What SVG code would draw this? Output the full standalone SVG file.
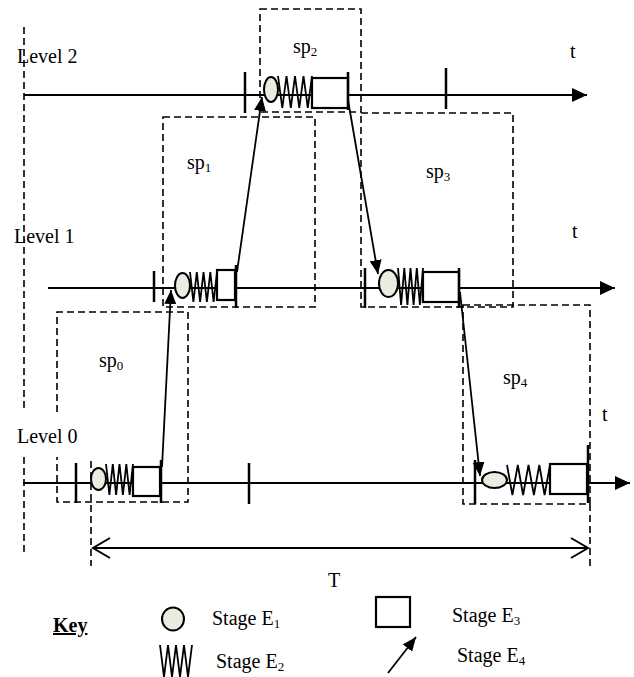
<svg xmlns="http://www.w3.org/2000/svg" width="634" height="677" viewBox="0 0 634 677">
<style>
text{font-family:"Liberation Serif","Times New Roman",serif;font-size:20px;fill:#000}
.sub{font-size:13px}
.dash{fill:none;stroke:#000;stroke-width:1.6;stroke-dasharray:7,4}
.axis{fill:none;stroke:#000;stroke-width:2}
.tick{stroke:#000;stroke-width:2.5}
.e1{fill:#ECEBE1;stroke:#000;stroke-width:2}
.e2{fill:none;stroke:#000;stroke-width:1.8;stroke-linejoin:miter}
.e3{fill:#fff;stroke:#000;stroke-width:2.2}
.e4{fill:none;stroke:#000;stroke-width:1.8}
</style>
<defs>
<marker id="ah" markerUnits="userSpaceOnUse" markerWidth="16" markerHeight="14" refX="15" refY="7" orient="auto"><path d="M0,0 L15,7 L0,14 z" fill="#000"/></marker>
<marker id="sh" markerUnits="userSpaceOnUse" markerWidth="14" markerHeight="12" refX="14" refY="6" orient="auto"><path d="M0,0 L14,6 L0,12 z" fill="#000"/></marker>
<marker id="open" markerUnits="userSpaceOnUse" markerWidth="20" markerHeight="22" refX="18" refY="11" orient="auto-start-reverse"><path d="M1,1 L18,11 L1,21" fill="none" stroke="#000" stroke-width="2"/></marker>
</defs>

<g id="frame">
<line class="dash" x1="24" y1="27" x2="24" y2="412"/>
<line class="dash" x1="24" y1="457" x2="24" y2="552"/>
<line class="dash" x1="91" y1="461" x2="91" y2="566"/>
<line class="dash" x1="590" y1="504" x2="590" y2="566"/>
</g>

<g id="sp0"><path class="dash" d="M57,412 V312 H188 V502 H57 V457"/><text x="99" y="367">sp<tspan class="sub" dy="3">0</tspan></text></g>
<g id="sp1"><rect class="dash" x="163" y="117" width="152" height="190"/><text x="187" y="169">sp<tspan class="sub" dy="3">1</tspan></text></g>
<g id="sp2"><rect class="dash" x="260" y="9" width="101" height="103"/><text x="293" y="53">sp<tspan class="sub" dy="3">2</tspan></text></g>
<g id="sp3"><rect class="dash" x="361" y="113" width="152" height="194"/><text x="426" y="178">sp<tspan class="sub" dy="3">3</tspan></text></g>
<g id="sp4"><rect class="dash" x="463" y="305" width="127" height="199"/><text x="503" y="384">sp<tspan class="sub" dy="3">4</tspan></text></g>

<g id="level2">
<text x="17" y="63">Level 2</text>
<text x="570" y="58">t</text>
<line class="axis" x1="24" y1="95" x2="587" y2="95" marker-end="url(#ah)"/>
<line class="tick" x1="245" y1="72" x2="245" y2="113"/>
<line class="tick" x1="446" y1="68" x2="446" y2="109"/>
</g>
<g id="level1">
<text x="14" y="243">Level 1</text>
<text x="572" y="238">t</text>
<line class="axis" x1="48" y1="288" x2="615" y2="288" marker-end="url(#ah)"/>
<line class="tick" x1="154" y1="271" x2="154" y2="302"/>
<line class="tick" x1="365" y1="268" x2="365" y2="308"/>
</g>
<g id="level0">
<rect x="15" y="413" width="67" height="43" fill="#fff"/>
<text x="17" y="443">Level 0</text>
<text x="602" y="421">t</text>
<line class="axis" x1="23" y1="483" x2="630" y2="483" marker-end="url(#ah)"/>
<line class="tick" x1="76" y1="463" x2="76" y2="503"/>
<line class="tick" x1="249" y1="463" x2="249" y2="504"/>
<line class="tick" x1="475" y1="460" x2="475" y2="504"/>
</g>

<g id="stage-l2">
<ellipse class="e1" cx="271" cy="89.5" rx="7" ry="12.5"/>
<path class="e2" d="M278,76 L282.3,108 L286.5,76 L290.8,108 L295,76 L299.3,108 L303.5,76 L307.8,108 L312,76"/>
<rect class="e3" x="312" y="78" width="36" height="30"/>
<line class="tick" x1="348" y1="72" x2="348" y2="110"/>
</g>
<g id="stage-l1a">
<ellipse class="e1" cx="182.5" cy="285.5" rx="7.5" ry="12.5"/>
<path class="e2" d="M190,272 L193.4,302 L196.8,272 L200.1,302 L203.5,272 L206.9,302 L210.3,272 L213.6,302 L217,272"/>
<rect class="e3" x="217" y="270" width="18" height="30"/>
<line class="tick" x1="236" y1="265" x2="236" y2="308"/>
</g>
<g id="stage-l1b">
<ellipse class="e1" cx="388.5" cy="283.5" rx="9.5" ry="13.5"/>
<path class="e2" d="M398,268 L401.1,305 L404.3,268 L407.4,305 L410.5,268 L413.6,305 L416.8,268 L419.9,305 L423,268"/>
<rect class="e3" x="423" y="272" width="36" height="30"/>
<line class="tick" x1="459" y1="268" x2="459" y2="308"/>
</g>
<g id="stage-l0a">
<ellipse class="e1" cx="98.5" cy="479" rx="7.5" ry="11"/>
<path class="e2" d="M106,464 L109.4,495 L112.8,464 L116.1,495 L119.5,464 L122.9,495 L126.3,464 L129.6,495 L133,464"/>
<rect class="e3" x="133" y="467" width="27" height="29"/>
<line class="tick" x1="161" y1="460" x2="161" y2="503" stroke-width="3.2"/>
</g>
<g id="stage-l0b">
<ellipse class="e1" cx="494.5" cy="480" rx="12.5" ry="8"/>
<path class="e2" d="M507,465 L512.4,495 L517.8,465 L523.1,495 L528.5,465 L533.9,495 L539.3,465 L544.6,495 L550,465"/>
<rect class="e3" x="550" y="464" width="37" height="30"/>
<line class="tick" x1="588" y1="445" x2="588" y2="503" stroke-width="3.2"/>
</g>

<g id="connectors">
<line class="e4" x1="162" y1="467" x2="171" y2="290" marker-end="url(#sh)"/>
<line class="e4" x1="237" y1="272" x2="262" y2="97" marker-end="url(#sh)"/>
<line class="e4" x1="348" y1="100" x2="378" y2="274" marker-end="url(#sh)"/>
<line class="e4" x1="460" y1="292" x2="480" y2="476" marker-end="url(#sh)"/>
</g>

<g id="period">
<line x1="93" y1="548" x2="588" y2="548" stroke="#000" stroke-width="2" marker-start="url(#open)" marker-end="url(#open)"/>
<text x="334" y="587" text-anchor="middle">T</text>
</g>

<g id="key">
<text x="53" y="632" font-weight="bold" text-decoration="underline">Key</text>
<g id="key-e1"><ellipse class="e1" cx="173" cy="619" rx="11" ry="11.5"/><text x="212" y="625">Stage E<tspan class="sub" dy="3">1</tspan></text></g>
<g id="key-e2"><path class="e2" d="M160,645 L164,677 L168,645 L172,677 L176,645 L180,677 L184,645 L188,677 L192,645"/><text x="216" y="668">Stage E<tspan class="sub" dy="3">2</tspan></text></g>
<g id="key-e3"><rect class="e3" x="376" y="597" width="34" height="30"/><text x="452" y="622">Stage E<tspan class="sub" dy="3">3</tspan></text></g>
<g id="key-e4"><line class="e4" x1="388" y1="673" x2="416" y2="637" marker-end="url(#sh)"/><text x="457" y="662">Stage E<tspan class="sub" dy="3">4</tspan></text></g>
</g>
</svg>
